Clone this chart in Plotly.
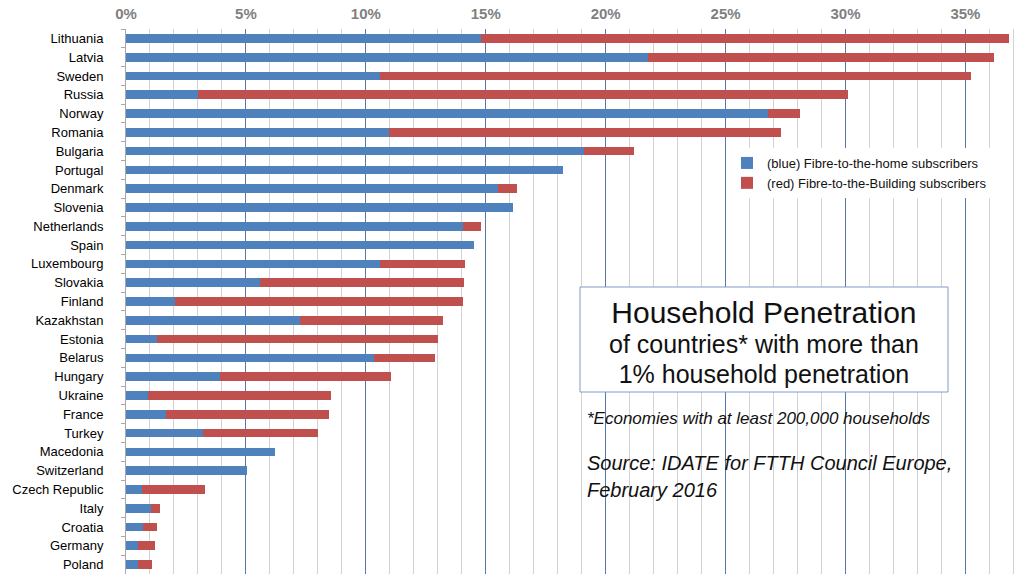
import plotly.graph_objects as go

countries = ["Lithuania", "Latvia", "Sweden", "Russia", "Norway", "Romania", "Bulgaria",
             "Portugal", "Denmark", "Slovenia", "Netherlands", "Spain", "Luxembourg",
             "Slovakia", "Finland", "Kazakhstan", "Estonia", "Belarus", "Hungary",
             "Ukraine", "France", "Turkey", "Macedonia", "Switzerland", "Czech Republic",
             "Italy", "Croatia", "Germany", "Poland"]
ftth = [14.8, 21.75, 10.6, 3.0, 26.75, 10.95, 19.1, 18.2, 15.5, 16.15, 14.05, 14.5, 10.6,
        5.6, 2.05, 7.25, 1.3, 10.35, 3.9, 0.9, 1.65, 3.2, 6.2, 5.05, 0.65, 1.05, 0.7, 0.5, 0.5]
fttb = [22.0, 14.45, 24.65, 27.1, 1.35, 16.35, 2.1, 0.0, 0.8, 0.0, 0.75, 0.0, 3.55,
        8.5, 12.0, 5.95, 11.7, 2.55, 7.15, 7.65, 6.8, 4.8, 0.0, 0.0, 2.65, 0.35, 0.6, 0.7, 0.6]
legend_names = ["(blue) Fibre-to-the-home subscribers", "(red) Fibre-to-the-Building subscribers"]
x_tickvals = [0, 5, 10, 15, 20, 25, 30, 35]
x_ticktext = ["0%", "5%", "10%", "15%", "20%", "25%", "30%", "35%"]

W, H = 1023, 582
L, R, T, B = 126, 0, 29, 8
PW, PH = W - L - R, H - T - B


def px(x):
    return (x - L) / PW


def py(y):
    return 1 - (y - T) / PH


FONT = "Liberation Sans, Arial, Helvetica, sans-serif"

fig = go.Figure()
fig.add_trace(go.Bar(y=countries, x=ftth, orientation="h", name=legend_names[0],
                     marker=dict(color="#4f81bd", line=dict(width=0)), width=0.46))
fig.add_trace(go.Bar(y=countries, x=fttb, orientation="h", name=legend_names[1],
                     marker=dict(color="#c0504d", line=dict(width=0)), width=0.46))

fig.update_layout(
    width=W, height=H,
    margin=dict(l=L, r=R, t=T, b=B, pad=0),
    barmode="stack",
    plot_bgcolor="white", paper_bgcolor="white",
    font=dict(family=FONT, color="black"),
    showlegend=True,
    legend=dict(x=px(727), y=py(148), xanchor="left", yanchor="top",
                traceorder="normal", bgcolor="white", font=dict(size=13, color="#111"),
                borderwidth=0, tracegroupgap=0),
    xaxis=dict(side="top", range=[0, 37.4], tickmode="array", tickvals=x_tickvals,
               ticktext=x_ticktext, automargin=False,
               tickfont=dict(size=15, color="#7f7f7f", weight="bold"),
               showgrid=True, gridcolor="#5877ab", gridwidth=1, zeroline=False,
               showline=False, ticks="", ticklabelstandoff=6,
               minor=dict(dtick=1, tick0=0, showgrid=True, gridcolor="#d2d2d8", gridwidth=1)),
    yaxis=dict(range=[28.5, -0.5], type="category", tickfont=dict(size=13, color="black"),
               automargin=False,
               showline=True, linecolor="#a8a8a8", linewidth=1, ticks="outside",
               tickson="boundaries", ticklen=4, tickcolor="#a8a8a8",
               ticklabelstandoff=19, showgrid=False),
)

fig.add_shape(type="rect", xref="paper", yref="paper",
              x0=px(580), x1=px(948), y0=py(392), y1=py(287),
              line=dict(color="#7f9cc4", width=1), fillcolor="white", layer="above")

box_lines = ["Household Penetration", "of countries* with more than", "1% household penetration"]
box_sizes = [30, 25, 25]
box_text = "<br>".join(f"<span style='font-size:{s}px'>{t}</span>"
                       for t, s in zip(box_lines, box_sizes))
fig.add_annotation(xref="paper", yref="paper", x=px(764), y=py(342),
                   xanchor="center", yanchor="middle", showarrow=False,
                   text=box_text, align="center",
                   font=dict(size=23, color="#111", family=FONT))

ann = [
    ("*Economies with at least 200,000 households", 585, 418, 17),
    ("Source: IDATE for FTTH Council Europe,", 585, 463, 20),
    ("February 2016", 585, 490, 20),
]
for text, x, y, size in ann:
    fig.add_annotation(xref="paper", yref="paper", x=px(x), y=py(y),
                       xanchor="left", yanchor="middle", showarrow=False,
                       text=f"<i>{text}</i>",
                       font=dict(size=size, color="#111", family=FONT))

fig.write_html("out.html", config={"displayModeBar": False},
               post_script="document.body.style.margin='0';")
